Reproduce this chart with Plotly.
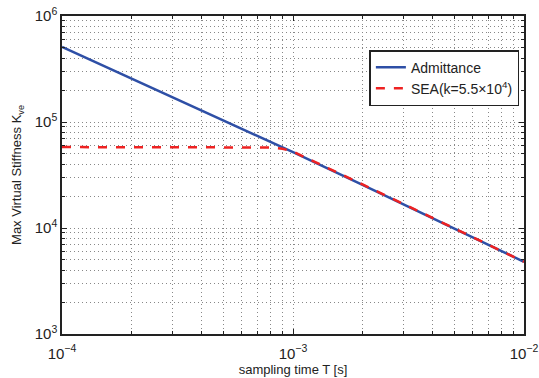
import plotly.graph_objects as go

# Sampling periods [s]
T_adm = [1e-4, 2e-4, 5e-4, 1e-3, 2e-3, 5e-3, 1e-2]
# Max virtual stiffness for admittance control
K_adm = [5.1e5, 2.57e5, 1.03e5, 5.2e4, 2.55e4, 9.9e3, 4.8e3]

T_sea = [1e-4, 2e-4, 5e-4, 8e-4, 9e-4, 1e-3, 2e-3, 5e-3, 1e-2]
# Max virtual stiffness for SEA with k = 5.5e4
K_sea = [5.8e4, 5.8e4, 5.8e4, 5.75e4, 5.6e4, 5.25e4, 2.58e4, 1.0e4, 4.8e3]

x_tickvals = [1e-4, 1e-3, 1e-2]
x_ticktext = ["10<sup>−4</sup>", "10<sup>−3</sup>", "10<sup>−2</sup>"]
y_tickvals = [1e3, 1e4, 1e5, 1e6]
y_ticktext = ["10<sup>3</sup>", "10<sup>4</sup>", "10<sup>5</sup>", "10<sup>6</sup>"]


def minor_positions(decades):
    return [m * d for d in decades[:-1] for m in range(2, 10)]


font = dict(family="Liberation Sans, Arial, sans-serif", size=13, color="#222")

fig = go.Figure()
fig.add_trace(go.Scatter(x=T_adm, y=K_adm, mode="lines", name="Admittance",
                         line=dict(color="#2e4fa6", width=2.5)))
fig.add_trace(go.Scatter(x=T_sea, y=K_sea, mode="lines",
                         name="SEA(k=5.5×10<sup>4</sup>)",
                         line=dict(color="#ee2222", width=2.5, dash="dash")))

GRID_DASH = "1px,3px"


def axis_style(decades):
    return dict(type="log", showline=True, linecolor="#222", linewidth=1.5,
                mirror="ticks", ticks="inside", ticklen=5, tickcolor="#222",
                tickfont=dict(size=15, color="#222"), zeroline=False,
                automargin=False,
                showgrid=True, gridcolor="#888", griddash=GRID_DASH, gridwidth=1,
                minor=dict(tickvals=minor_positions(decades), ticks="inside",
                           ticklen=3, tickcolor="#222", showgrid=True,
                           gridcolor="#888", griddash=GRID_DASH, gridwidth=1))


fig.update_xaxes(range=[-4, -2], tickvals=x_tickvals, ticktext=x_ticktext,
                 ticklabelstandoff=5,
                 title=dict(text="sampling time T [s]", font=dict(size=13), standoff=4),
                 **axis_style(x_tickvals))
fig.update_yaxes(range=[3, 6], tickvals=y_tickvals, ticktext=y_ticktext,
                 title=dict(text="Max Virtual Stiffness K<sub>ve</sub>", font=dict(size=13), standoff=10),
                 **axis_style(y_tickvals))

fig.update_layout(
    width=539, height=378,
    margin=dict(l=62, r=15, t=16, b=44),
    paper_bgcolor="white", plot_bgcolor="white",
    font=font,
    showlegend=True,
    legend=dict(x=0.99, y=0.893, xanchor="right", yanchor="top",
                bgcolor="white", bordercolor="#222", borderwidth=1.5,
                font=dict(size=14, color="#222"), tracegroupgap=0),
)

fig.write_html("out.html")
